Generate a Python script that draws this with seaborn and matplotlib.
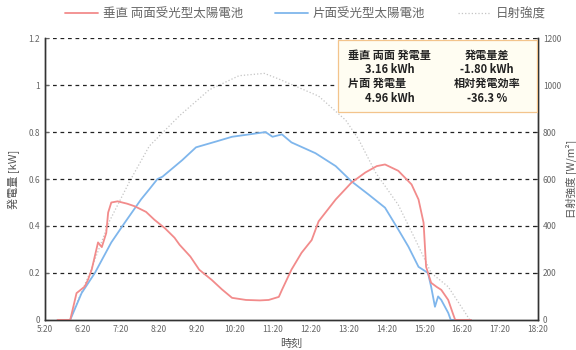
import pandas as pd
import matplotlib.pyplot as plt
import seaborn as sns
from matplotlib.lines import Line2D
from matplotlib.patches import Rectangle

# Data
bifacial_time = ["05:40", "06:00", "06:10", "06:23", "06:28", "06:34", "06:44", "06:50", "06:57",
                 "07:00", "07:05", "07:15", "07:30", "07:42", "08:00", "08:13", "08:30", "08:45",
                 "08:53", "09:10", "09:24", "09:44", "10:00", "10:16", "10:38", "11:00", "11:14",
                 "11:30", "11:35", "11:50", "12:06", "12:22", "12:33", "13:00", "13:25", "13:47",
                 "14:05", "14:18", "14:39", "15:00", "15:11", "15:19", "15:23", "15:31", "15:40",
                 "15:47", "15:58", "16:05", "16:09", "16:34"]
bifacial_kw = [0.0, 0.0, 0.114, 0.142, 0.17, 0.214, 0.33, 0.31, 0.37,
               0.457, 0.50, 0.505, 0.495, 0.484, 0.46, 0.427, 0.39, 0.35,
               0.32, 0.27, 0.214, 0.17, 0.13, 0.094, 0.085, 0.083, 0.085,
               0.098, 0.128, 0.214, 0.286, 0.34, 0.42, 0.513, 0.585, 0.628,
               0.655, 0.662, 0.635, 0.577, 0.513, 0.414, 0.226, 0.158, 0.14,
               0.128, 0.085, 0.03, 0.0, 0.0]

mono_time = ["05:40", "06:00", "06:18", "06:39", "07:05", "07:26", "07:52", "08:05", "08:18",
             "08:26", "08:57", "09:19", "09:51", "10:16", "10:43", "11:09", "11:20", "11:35",
             "11:50", "12:28", "13:00", "13:25", "13:52", "14:18", "14:39", "14:55", "15:11",
             "15:26", "15:31", "15:37", "15:42", "15:47", "15:58", "16:02", "16:34"]
mono_kw = [0.0, 0.0, 0.114, 0.2, 0.33, 0.413, 0.513, 0.556, 0.6,
           0.61, 0.68, 0.735, 0.76, 0.78, 0.79, 0.80, 0.78, 0.79,
           0.756, 0.71, 0.655, 0.59, 0.534, 0.478, 0.385, 0.312, 0.226,
           0.2, 0.141, 0.056, 0.10, 0.085, 0.03, 0.0, 0.0]

sun_time = ["06:00", "06:07", "06:31", "07:02", "07:34", "08:05", "08:53", "09:40", "10:27",
            "11:07", "11:30", "12:33", "13:16", "13:36", "14:03", "14:39", "15:06", "15:31",
            "15:58", "16:25", "16:32"]
sun_wm2 = [0, 50, 200, 420, 590, 740, 870, 980, 1040,
           1050, 1026, 953, 850, 770, 628, 490, 342, 200,
           141, 30, 0]

tick_labels = ["5:20", "6:20", "7:20", "8:20", "9:20", "10:20", "11:20", "12:20",
               "13:20", "14:20", "15:20", "16:20", "17:20", "18:20"]


def to_hours(times):
    return [int(t[:2]) + int(t[3:]) / 60 for t in times]


df_bi = pd.DataFrame({"t": to_hours(bifacial_time), "kw": bifacial_kw})
df_mono = pd.DataFrame({"t": to_hours(mono_time), "kw": mono_kw})
df_sun = pd.DataFrame({"t": to_hours(sun_time), "w": sun_wm2})

sns.set_style("white")
plt.rcParams['font.family'] = ['Noto Sans CJK JP', 'DejaVu Sans']

red = "#f28b8b"
blue = "#7fb6ec"
gray = "#c4c4c4"

fig = plt.figure(figsize=(5.76, 3.5), dpi=100)
ax = fig.add_axes([0.078, 0.086, 0.856, 0.805])
ax2 = ax.twinx()

sns.lineplot(data=df_sun, x="t", y="w", ax=ax2, color=gray, linewidth=0.9, linestyle=":")
sns.lineplot(data=df_mono, x="t", y="kw", ax=ax, color=blue, linewidth=1.3)
sns.lineplot(data=df_bi, x="t", y="kw", ax=ax, color=red, linewidth=1.3)
ax.set_zorder(ax2.get_zorder() + 1)
ax.patch.set_visible(False)

xticks = [to_hours(["05:20"])[0] + i for i in range(len(tick_labels))]
ax.set_xlim(xticks[0], xticks[-1])
ax.set_xticks(xticks)
ax.set_xticklabels(tick_labels)
ax.set_ylim(0, 1.2)
ax.set_yticks([0, 0.2, 0.4, 0.6, 0.8, 1.0, 1.2])
ax.set_yticklabels(["0", "0.2", "0.4", "0.6", "0.8", "1", "1.2"])
ax2.set_ylim(0, 1200)
ax2.set_yticks(range(0, 1201, 200))

for yv in [0.2, 0.4, 0.6, 0.8, 1.0, 1.2]:
    ax.axhline(yv, color="#222222", linestyle=(0, (3, 3)), linewidth=0.9, zorder=0)

for a in (ax, ax2):
    a.spines["top"].set_visible(False)
    for s in ("left", "bottom", "right"):
        a.spines[s].set_color("#333333")
        a.spines[s].set_linewidth(1.0)
    a.tick_params(labelsize=6, colors="#666666", length=3, direction="in")

ax.set_xlabel("時刻", fontsize=8, color="#555555", labelpad=4)
ax.set_ylabel("発電量 [kW]", fontsize=8, color="#555555", labelpad=6)
ax2.set_ylabel("日射強度 [W/m²]", fontsize=7.5, color="#555555", labelpad=3)

# info box
ax.add_patch(Rectangle((0.594, 0.738), 0.404, 0.255, transform=ax.transAxes,
                       facecolor="#fffdf2", edgecolor="#f3c48c", linewidth=0.9, zorder=5))
box_kw = dict(transform=ax.transAxes, fontsize=8, fontweight="bold", color="#222222",
              va="center", zorder=6)
ax.text(0.614, 0.94, "垂直 両面 発電量", ha="left", **box_kw)
ax.text(0.897, 0.94, "発電量差", ha="center", **box_kw)
ax.text(0.700, 0.887, "3.16 kWh", ha="center", **box_kw)
ax.text(0.897, 0.887, "-1.80 kWh", ha="center", **box_kw)
ax.text(0.614, 0.84, "片面 発電量", ha="left", **box_kw)
ax.text(0.897, 0.84, "相対発電効率", ha="center", **box_kw)
ax.text(0.700, 0.787, "4.96 kWh", ha="center", **box_kw)
ax.text(0.897, 0.787, "-36.3 %", ha="center", **box_kw)

handles = [Line2D([], [], color=red, linewidth=1.3),
           Line2D([], [], color=blue, linewidth=1.3),
           Line2D([], [], color=gray, linewidth=0.9, linestyle=":")]
labels = ["垂直 両面受光型太陽電池", "片面受光型太陽電池", "日射強度"]
fig.legend(handles, labels, loc="upper center", bbox_to_anchor=(0.53, 1.01), ncol=3,
           frameon=False, fontsize=9, labelcolor="#666666", handlelength=2.6,
           columnspacing=2.6, handletextpad=0.4)

fig.savefig("out.png", dpi=100)
